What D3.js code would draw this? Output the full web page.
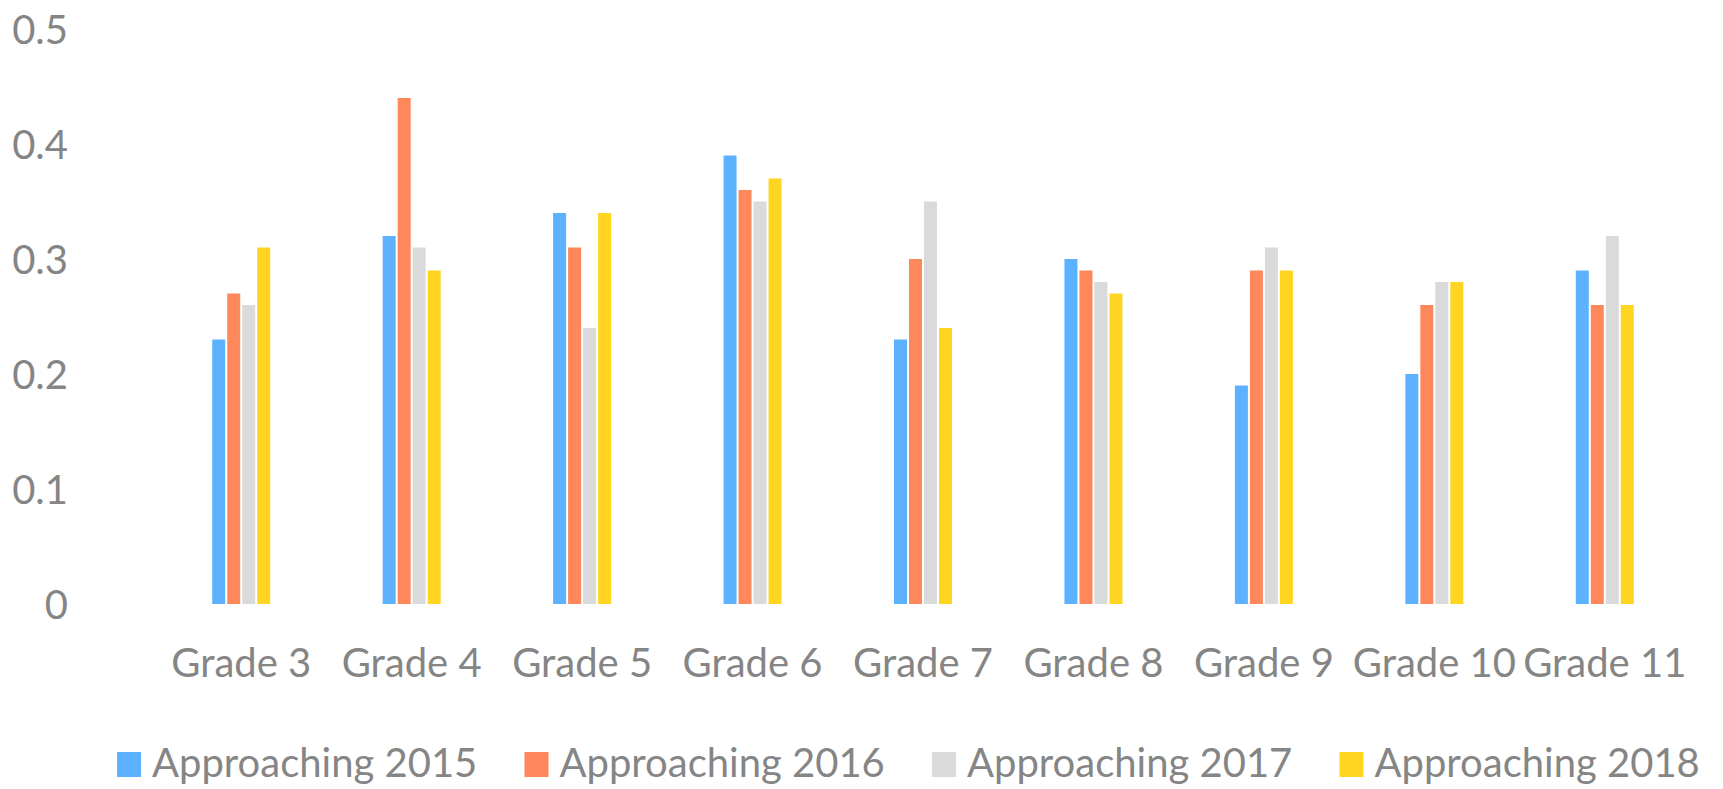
<!DOCTYPE html>
<html>
<head>
<meta charset="utf-8">
<script src="https://d3js.org/d3.v7.min.js"></script>
<style>
  body { margin: 0; background: #fff; }
  svg text { font-family: Lato, "Open Sans", sans-serif; fill: #858585; }
</style>
</head>
<body>
<svg id="chart" width="1723" height="789"></svg>
<script>
// data
var grades = ["Grade 3", "Grade 4", "Grade 5", "Grade 6", "Grade 7", "Grade 8", "Grade 9", "Grade 10", "Grade 11"];
var seriesNames = ["Approaching 2015", "Approaching 2016", "Approaching 2017", "Approaching 2018"];
var approaching2015 = [0.23, 0.32, 0.34, 0.39, 0.23, 0.30, 0.19, 0.20, 0.29];
var approaching2016 = [0.27, 0.44, 0.31, 0.36, 0.30, 0.29, 0.29, 0.26, 0.26];
var approaching2017 = [0.26, 0.31, 0.24, 0.35, 0.35, 0.28, 0.31, 0.28, 0.32];
var approaching2018 = [0.31, 0.29, 0.34, 0.37, 0.24, 0.27, 0.29, 0.28, 0.26];
var yTicks = [0, 0.1, 0.2, 0.3, 0.4, 0.5];

var colors = ["#5cb2ff", "#ff875c", "#dadada", "#ffd522"];
var allSeries = [approaching2015, approaching2016, approaching2017, approaching2018];

var svg = d3.select("#chart");

var y = d3.scaleLinear().domain([0, 0.5]).range([604, 29]);
var x0 = d3.scaleBand().domain(grades).range([156, 1690]);
var groupW = 58;
var x1 = d3.scaleBand().domain(d3.range(4)).range([0, groupW]).paddingInner(0.133);

// y axis labels only
var yAxis = svg.append("g")
  .attr("transform", "translate(68,0)")
  .call(d3.axisLeft(y).tickValues(yTicks).tickSize(0).tickPadding(0).tickFormat(d3.format("~g")));
yAxis.select(".domain").remove();
yAxis.selectAll("text").style("font-size", "40px").attr("dy", "0.35em");

// bars
var groups = svg.append("g").selectAll("g")
  .data(grades)
  .join("g")
  .attr("transform", function(d) { return "translate(" + (x0(d) + (x0.bandwidth() - groupW) / 2) + ",0)"; });

groups.selectAll("rect")
  .data(function(d, i) { return allSeries.map(function(s, k) { return { k: k, v: s[i] }; }); })
  .join("rect")
  .attr("x", function(d) { return x1(d.k); })
  .attr("width", x1.bandwidth())
  .attr("y", function(d) { return y(d.v); })
  .attr("height", function(d) { return y(0) - y(d.v); })
  .attr("fill", function(d) { return colors[d.k]; });

// x axis labels
var xAxis = svg.append("g")
  .attr("transform", "translate(0," + y(0) + ")")
  .call(d3.axisBottom(x0).tickSize(0).tickPadding(45));
xAxis.select(".domain").remove();
xAxis.selectAll("text").style("font-size", "40px");

// legend
var legend = svg.append("g").selectAll("g")
  .data(seriesNames)
  .join("g")
  .attr("transform", function(d, i) { return "translate(" + (117 + i * 407.5) + ",752)"; });
legend.append("rect").attr("width", 24).attr("height", 25).attr("fill", function(d, i) { return colors[i]; });
legend.append("text").attr("x", 35).attr("y", 25).style("font-size", "40px").text(function(d) { return d; });
</script>
</body>
</html>
